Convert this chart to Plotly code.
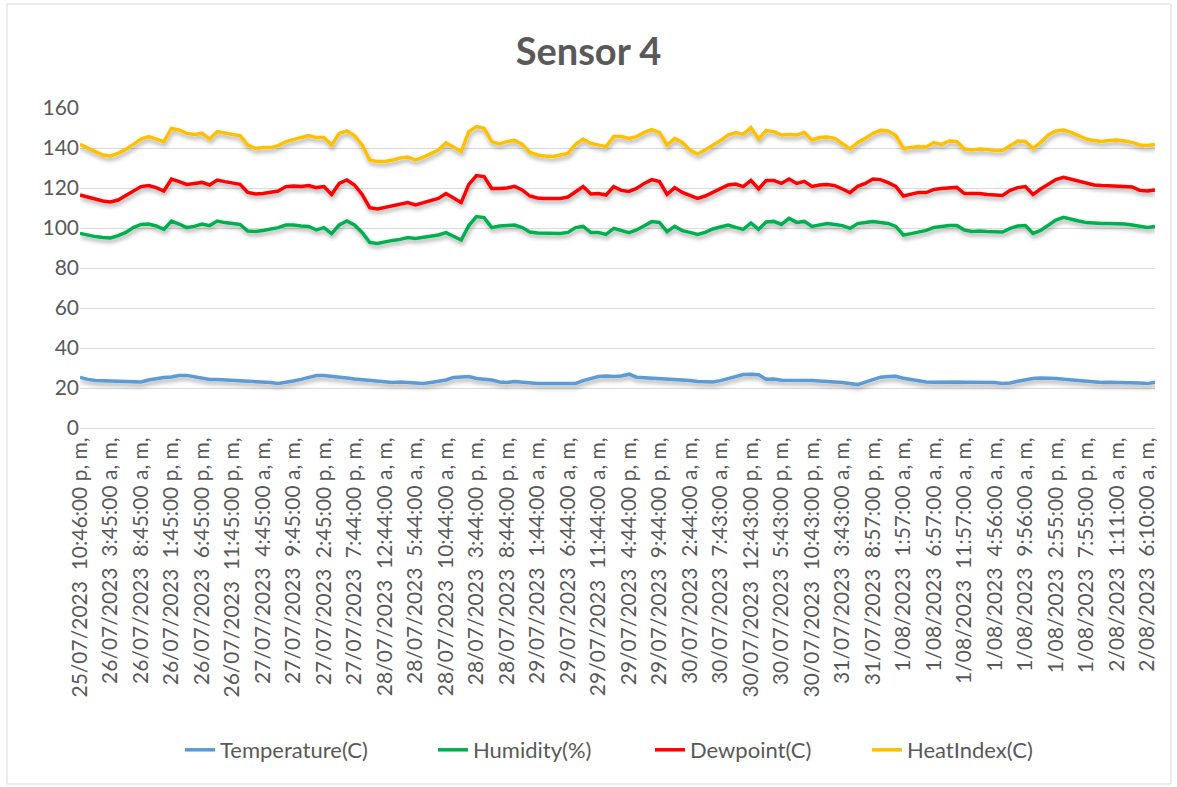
import plotly.graph_objects as go

tick_labels = [
    "25/07/2023  10:46:00 p, m,", "26/07/2023  3:45:00 a, m,", "26/07/2023  8:45:00 a, m,",
    "26/07/2023  1:45:00 p, m,", "26/07/2023  6:45:00 p, m,", "26/07/2023  11:45:00 p, m,",
    "27/07/2023  4:45:00 a, m,", "27/07/2023  9:45:00 a, m,", "27/07/2023  2:45:00 p, m,",
    "27/07/2023  7:44:00 p, m,", "28/07/2023  12:44:00 a, m,", "28/07/2023  5:44:00 a, m,",
    "28/07/2023  10:44:00 a, m,", "28/07/2023  3:44:00 p, m,", "28/07/2023  8:44:00 p, m,",
    "29/07/2023  1:44:00 a, m,", "29/07/2023  6:44:00 a, m,", "29/07/2023  11:44:00 a, m,",
    "29/07/2023  4:44:00 p, m,", "29/07/2023  9:44:00 p, m,", "30/07/2023  2:44:00 a, m,",
    "30/07/2023  7:43:00 a, m,", "30/07/2023  12:43:00 p, m,", "30/07/2023  5:43:00 p, m,",
    "30/07/2023  10:43:00 p, m,", "31/07/2023  3:43:00 a, m,", "31/07/2023  8:57:00 p, m,",
    "1/08/2023  1:57:00 a, m,", "1/08/2023  6:57:00 a, m,", "1/08/2023  11:57:00 a, m,",
    "1/08/2023  4:56:00 a, m,", "1/08/2023  9:56:00 a, m,", "1/08/2023  2:55:00 p, m,",
    "1/08/2023  7:55:00 p, m,", "2/08/2023  1:11:00 a, m,", "2/08/2023  6:10:00 a, m,",
]
points_per_label = 4

temperature = [
    25.3, 24.3, 23.8, 23.7, 23.6, 23.4, 23.0, 23.0, 23.0, 24.0,
    24.8, 25.2, 25.5, 26.2, 26.3, 25.5, 24.8, 24.3, 24.2, 24.0,
    24.0, 23.8, 23.3, 23.2, 22.8, 22.7, 22.3, 22.8, 23.5, 24.3,
    25.2, 26.2, 26.3, 26.0, 25.5, 25.0, 24.5, 24.2, 23.8, 23.7,
    23.2, 22.8, 23.0, 22.8, 22.7, 22.2, 22.8, 23.3, 24.0, 25.3,
    25.7, 25.7, 24.8, 24.3, 24.0, 23.0, 22.7, 23.2, 22.8, 22.5,
    22.3, 22.3, 22.3, 22.3, 22.2, 22.3, 23.7, 24.8, 25.7, 26.0,
    25.7, 26.0, 26.9, 25.4, 25.2, 25.2, 25.0, 24.7, 24.5, 24.1,
    23.8, 23.3, 23.0, 23.0, 23.7, 24.7, 25.9, 26.7, 26.9, 26.6,
    24.4, 24.5, 23.9, 23.9, 24.0, 24.1, 23.7, 23.5, 23.4, 23.0,
    22.7, 22.2, 21.7, 22.9, 24.2, 25.4, 25.7, 25.9, 24.9, 24.2,
    23.5, 23.0, 22.9, 23.0, 23.2, 23.0, 22.9, 22.9, 22.9, 22.9,
    22.7, 22.2, 22.5, 23.4, 24.2, 24.7, 25.0, 25.0, 24.7, 24.4,
    24.0, 23.7, 23.4, 22.9, 22.7, 22.9, 22.9, 22.9, 22.7, 22.5,
    22.2, 22.9,
]

humidity = [
    97.3, 96.3, 95.7, 95.2, 95.0, 96.2, 97.8, 100.2, 101.8, 102.0,
    101.0, 99.3, 103.5, 102.0, 100.2, 100.8, 102.0, 101.2, 103.5, 102.7,
    102.3, 101.8, 98.5, 98.2, 98.8, 99.3, 100.2, 101.5, 101.5, 101.0,
    100.8, 99.0, 100.2, 97.2, 101.5, 103.5, 101.5, 97.8, 92.8, 92.3,
    93.2, 93.8, 94.3, 95.2, 94.8, 95.5, 96.2, 96.5, 97.7, 95.7,
    94.0, 101.2, 105.7, 105.2, 100.2, 101.0, 101.3, 101.5, 100.2, 98.0,
    97.5, 97.3, 97.3, 97.3, 97.8, 100.2, 100.8, 97.7, 97.7, 96.8,
    99.8, 98.7, 97.7, 99.0, 101.3, 103.2, 102.8, 98.2, 100.8, 98.7,
    97.8, 96.8, 97.8, 99.5, 100.5, 101.5, 100.3, 99.3, 102.5, 99.3,
    103.0, 103.3, 101.8, 104.8, 102.8, 103.3, 100.8, 101.7, 102.2, 101.7,
    101.2, 99.8, 102.2, 102.7, 103.3, 102.7, 102.3, 100.8, 96.5, 97.2,
    97.8, 98.8, 100.3, 101.0, 101.3, 101.3, 99.0, 98.3, 98.5, 98.2,
    98.2, 98.0, 99.8, 101.0, 101.2, 97.3, 98.8, 101.5, 104.0, 105.3,
    104.2, 103.5, 102.7, 102.3, 102.3, 102.3, 102.3, 102.0, 101.5, 100.7,
    100.2, 100.7,
]

dewpoint = [
    116.5, 115.3, 114.5, 113.5, 113.0, 114.0, 116.2, 118.2, 120.7, 121.2,
    120.2, 118.5, 124.5, 123.2, 121.8, 122.3, 122.8, 121.5, 124.0, 123.2,
    122.5, 121.8, 117.8, 117.0, 117.3, 117.8, 118.5, 120.7, 121.0, 120.7,
    121.2, 120.2, 120.7, 116.8, 122.3, 124.0, 121.5, 116.8, 110.2, 109.5,
    110.3, 111.2, 112.2, 112.7, 111.5, 112.7, 113.8, 114.8, 117.2, 114.8,
    112.8, 121.8, 126.2, 125.7, 119.8, 119.7, 120.0, 120.8, 119.0, 116.0,
    115.0, 114.8, 114.8, 114.8, 115.5, 118.2, 120.7, 117.0, 117.2, 116.5,
    120.7, 118.8, 118.3, 119.8, 122.3, 124.2, 123.2, 116.8, 120.2, 117.8,
    116.5, 114.8, 116.0, 117.8, 119.3, 121.5, 122.0, 120.7, 123.8, 119.5,
    123.7, 123.8, 122.3, 124.5, 122.3, 123.3, 120.8, 121.5, 121.7, 121.2,
    119.5, 117.7, 120.8, 122.3, 124.5, 124.2, 122.7, 120.8, 116.0, 116.8,
    117.8, 117.7, 119.3, 119.7, 120.2, 120.3, 117.2, 117.2, 117.3, 116.8,
    116.5, 116.3, 118.8, 120.2, 120.7, 116.8, 119.5, 122.0, 124.2, 125.3,
    124.3, 123.3, 122.2, 121.5, 121.2, 121.2, 121.2, 120.8, 120.5, 118.8,
    118.5, 119.0,
]

heat_index = [
    141.8, 140.2, 138.2, 136.5, 136.0, 137.3, 139.3, 141.8, 144.5, 145.7,
    144.5, 143.2, 149.8, 149.0, 147.3, 146.8, 147.3, 144.5, 148.2, 147.3,
    146.8, 146.2, 141.5, 139.8, 140.3, 140.2, 141.2, 143.2, 144.3, 145.2,
    146.2, 145.2, 145.2, 141.5, 147.3, 148.5, 146.2, 141.5, 134.0, 133.2,
    133.3, 134.0, 135.0, 135.5, 134.0, 135.3, 137.0, 139.0, 142.5, 140.2,
    138.2, 148.2, 150.7, 149.8, 143.2, 142.0, 143.2, 143.8, 141.8, 137.8,
    136.5, 136.0, 135.8, 136.5, 137.3, 141.8, 144.5, 142.3, 141.5, 140.7,
    145.7, 145.7, 144.8, 145.7, 147.8, 149.2, 147.8, 141.5, 144.8, 142.8,
    139.0, 137.0, 139.0, 141.2, 143.7, 146.5, 147.7, 146.8, 150.2, 144.5,
    148.7, 148.2, 146.5, 146.8, 146.5, 147.7, 144.0, 145.2, 145.5, 144.8,
    142.3, 139.5, 142.8, 144.8, 147.3, 148.8, 148.5, 146.2, 139.8, 140.2,
    140.7, 140.5, 142.7, 141.8, 143.5, 143.3, 139.5, 139.0, 139.5, 139.3,
    138.8, 138.8, 141.2, 143.5, 143.3, 139.8, 142.8, 146.5, 148.5, 149.0,
    147.8, 146.0, 144.5, 143.7, 143.3, 143.8, 144.0, 143.5, 142.8, 141.5,
    141.2, 141.8,
]

series_names = ["Temperature(C)", "Humidity(%)", "Dewpoint(C)", "HeatIndex(C)"]
series_values = [temperature, humidity, dewpoint, heat_index]
series_colors = ["#5B9BD5", "#00B050", "#FF0000", "#FFC000"]
legend_text_x = [220, 473, 690, 907]   # pixel x where each legend label starts

FONT = "Lato, 'Open Sans', sans-serif"
TXT = "#595959"
GRID = "#D9D9D9"
W, H = 1177, 787

x_idx = list(range(len(temperature)))
tickvals = [i * points_per_label for i in range(len(tick_labels))]
ticktext = [t.replace("  ", "\u00a0\u00a0") for t in tick_labels]

fig = go.Figure()
legend_ids = ["legend", "legend2", "legend3", "legend4"]
for name, vals, col, lid in zip(series_names, series_values, series_colors, legend_ids):
    fig.add_trace(go.Scatter(x=x_idx, y=vals, name=name, mode="lines",
                             line=dict(color=col, width=3.5), legend=lid))

legend_layouts = {}
for lid, tx in zip(legend_ids, legend_text_x):
    legend_layouts[lid] = dict(
        orientation="h", xref="container", x=(tx - 40) / W, xanchor="left",
        yref="container", y=1 - 750 / H, yanchor="middle", itemwidth=30,
        bgcolor="rgba(0,0,0,0)",
        font=dict(family=FONT, size=22, color=TXT))

fig.update_layout(
    width=W, height=H,
    margin=dict(l=80, r=22, t=108, b=359),
    paper_bgcolor="white", plot_bgcolor="white",
    title=dict(text="<b>Sensor 4</b>", x=0.5, xref="container", xanchor="center",
               y=1 - 52 / H, yref="container", yanchor="middle",
               font=dict(family=FONT, size=38, color=TXT)),
    xaxis=dict(range=[0, len(temperature) - 1], tickvals=tickvals, ticktext=ticktext,
               tickangle=-90, showgrid=False, zeroline=False, showline=True,
               linecolor=GRID, linewidth=1, ticks="",
               tickfont=dict(family=FONT, size=21, color=TXT)),
    yaxis=dict(range=[0, 160], dtick=20, showgrid=True, gridcolor=GRID, gridwidth=1,
               zeroline=False, showline=False, ticks="",
               tickfont=dict(family=FONT, size=21, color=TXT)),
    showlegend=True,
    **legend_layouts,
)

fig.add_shape(type="rect", xref="paper", yref="paper",
              x0=(7 - 80) / 1075, x1=(1171 - 80) / 1075,
              y0=(428 - 784) / 320, y1=(428 - 4) / 320,
              line=dict(color=GRID, width=1), fillcolor="rgba(0,0,0,0)", layer="below")

post = """
document.body.style.margin='0';
var gd = document.getElementById('{plot_id}');
var svg = gd.querySelector('svg.main-svg');
var ns = 'http://www.w3.org/2000/svg';
var defs = svg.querySelector('defs');
if (!defs) { defs = document.createElementNS(ns, 'defs'); svg.insertBefore(defs, svg.firstChild); }
var f = document.createElementNS(ns, 'filter');
f.setAttribute('id', 'lnshadow');
f.setAttribute('filterUnits', 'userSpaceOnUse');
f.setAttribute('x', '-100'); f.setAttribute('y', '-100');
f.setAttribute('width', '2000'); f.setAttribute('height', '2000');
var ds = document.createElementNS(ns, 'feDropShadow');
ds.setAttribute('dx', '1'); ds.setAttribute('dy', '3');
ds.setAttribute('stdDeviation', '2');
ds.setAttribute('flood-color', '#000'); ds.setAttribute('flood-opacity', '0.33');
f.appendChild(ds); defs.appendChild(f);
gd.querySelectorAll('.scatterlayer path.js-line').forEach(function(p){ p.setAttribute('filter', 'url(#lnshadow)'); });
"""

fig.write_html("out.html", post_script=post, config={"displayModeBar": False})
